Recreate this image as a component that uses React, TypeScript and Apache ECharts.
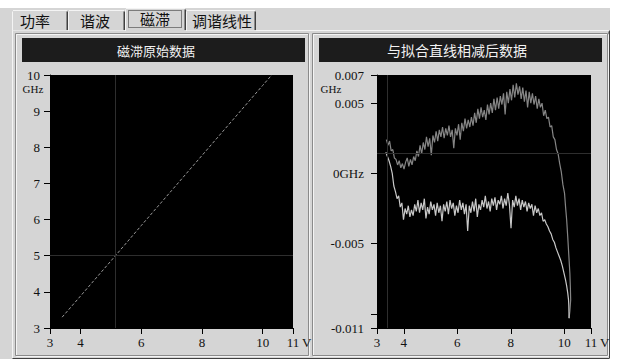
import React, { useEffect, useRef } from "react";
import * as echarts from "echarts";

const tabLabels = ["功率", "谐波", "磁滞", "调谐线性"];
const leftTitle = "磁滞原始数据";
const rightTitle = "与拟合直线相减后数据";
const xTickValues = [3, 4, 6, 8, 10, 11];
const rightYTickValues = [0.007, 0.005, 0, -0.005, -0.01, -0.011];
const rightYLabelValues = [0.007, 0.005, 0, -0.005, -0.011];

// 磁滞原始数据: [V, GHz]
const rawLine = [
  [3.4, 3.3], [4.0, 3.88], [5.0, 4.85], [6.0, 5.83], [7.0, 6.8],
  [8.0, 7.77], [9.0, 8.74], [10.0, 9.71], [10.3, 10.0],
];

// 与拟合直线相减后数据 (unit: 0.001 GHz) — upper branch
const upperCurve = [
  [3.35, 2.4], [3.41, 2.0], [3.47, 2.3], [3.53, 1.6], [3.59, 1.7], [3.65, 1.1], [3.71, 1.0],
  [3.77, 0.6], [3.83, 0.9], [3.89, 0.4], [3.95, 0.7], [4.01, 0.3], [4.07, 0.8], [4.13, 1.1],
  [4.19, 0.5], [4.25, 1.0], [4.31, 0.6], [4.37, 1.2], [4.43, 0.9], [4.49, 1.6], [4.55, 1.2],
  [4.61, 2.0], [4.67, 1.4], [4.73, 2.2], [4.79, 1.7], [4.85, 2.6], [4.91, 1.9], [4.97, 2.5],
  [5.03, 1.3], [5.09, 2.7], [5.15, 2.2], [5.21, 3.0], [5.27, 2.3], [5.33, 3.1], [5.39, 2.6],
  [5.45, 3.3], [5.51, 2.5], [5.57, 3.2], [5.63, 2.7], [5.69, 3.4], [5.75, 2.6], [5.81, 3.1],
  [5.87, 1.8], [5.93, 3.2], [5.99, 2.7], [6.05, 3.5], [6.11, 2.4], [6.17, 3.6], [6.23, 3.0],
  [6.29, 3.9], [6.35, 3.2], [6.41, 3.8], [6.47, 3.3], [6.53, 4.0], [6.59, 3.4], [6.65, 4.3],
  [6.71, 3.6], [6.77, 4.6], [6.83, 3.9], [6.89, 4.7], [6.95, 4.0], [7.01, 4.5], [7.07, 3.8],
  [7.13, 4.9], [7.19, 4.2], [7.25, 5.0], [7.31, 4.3], [7.37, 5.3], [7.43, 4.5], [7.49, 5.4],
  [7.55, 4.6], [7.61, 5.5], [7.67, 4.9], [7.73, 5.7], [7.79, 4.2], [7.85, 5.8], [7.91, 5.0],
  [7.97, 6.0], [8.03, 5.2], [8.09, 6.3], [8.15, 5.4], [8.21, 6.4], [8.27, 5.6], [8.33, 6.2],
  [8.39, 5.3], [8.45, 6.1], [8.51, 5.1], [8.57, 5.9], [8.63, 4.7], [8.69, 5.8], [8.75, 5.0],
  [8.81, 5.7], [8.87, 4.9], [8.93, 5.5], [8.99, 4.6], [9.05, 5.3], [9.11, 4.7], [9.17, 5.0],
  [9.23, 4.1], [9.29, 4.5], [9.35, 3.9], [9.41, 4.0], [9.47, 3.3], [9.53, 3.4], [9.59, 2.6],
  [9.65, 2.4], [9.71, 1.7], [9.77, 1.4], [9.83, 0.7], [9.89, 0.1], [9.95, -0.8], [10.01, -1.4],
  [10.05, -2.4], [10.09, -3.3], [10.13, -4.5], [10.17, -5.8], [10.21, -7.1], [10.23, -8.2],
  [10.24, -9.0], [10.21, -9.8], [10.18, -10.3],
];

// 与拟合直线相减后数据 (unit: 0.001 GHz) — lower branch
const lowerCurve = [
  [3.33, 1.5], [3.39, 1.2], [3.45, 0.9], [3.51, 0.5], [3.57, 0.0], [3.63, -0.9], [3.69, -1.3],
  [3.75, -1.8], [3.81, -1.6], [3.87, -2.4], [3.93, -2.1], [3.99, -3.3], [4.05, -2.5], [4.11, -2.9],
  [4.17, -2.3], [4.23, -3.1], [4.29, -2.6], [4.35, -3.0], [4.41, -2.2], [4.47, -2.7], [4.53, -1.9],
  [4.59, -2.8], [4.65, -2.1], [4.71, -2.6], [4.77, -1.8], [4.83, -3.2], [4.89, -2.4], [4.95, -2.9],
  [5.01, -2.0], [5.07, -2.6], [5.13, -2.2], [5.19, -3.0], [5.25, -2.1], [5.31, -2.8], [5.37, -2.3],
  [5.43, -3.4], [5.49, -2.2], [5.55, -2.7], [5.61, -2.0], [5.67, -2.9], [5.73, -1.9], [5.79, -2.5],
  [5.85, -2.1], [5.91, -3.0], [5.97, -2.3], [6.03, -2.8], [6.09, -1.9], [6.15, -2.6], [6.21, -2.1],
  [6.27, -2.9], [6.33, -2.2], [6.39, -4.1], [6.45, -2.3], [6.51, -2.8], [6.57, -2.0], [6.63, -2.7],
  [6.69, -1.8], [6.75, -3.1], [6.81, -2.2], [6.87, -2.6], [6.93, -1.9], [6.99, -2.4], [7.05, -1.6],
  [7.11, -2.5], [7.17, -2.0], [7.23, -2.7], [7.29, -1.8], [7.35, -2.3], [7.41, -1.7], [7.47, -2.6],
  [7.53, -1.9], [7.59, -2.2], [7.65, -1.6], [7.71, -2.5], [7.77, -1.8], [7.83, -2.3], [7.89, -1.4],
  [7.95, -2.2], [8.01, -3.9], [8.07, -1.9], [8.13, -2.4], [8.19, -1.6], [8.25, -2.3], [8.31, -1.8],
  [8.37, -2.6], [8.43, -1.9], [8.49, -2.4], [8.55, -2.0], [8.61, -2.7], [8.67, -2.1], [8.73, -2.5],
  [8.79, -2.2], [8.85, -3.0], [8.91, -2.3], [8.97, -2.8], [9.03, -2.5], [9.09, -3.0], [9.15, -2.8],
  [9.21, -3.4], [9.27, -3.3], [9.33, -3.6], [9.39, -3.8], [9.45, -4.1], [9.51, -4.3], [9.57, -4.7],
  [9.63, -4.9], [9.69, -5.3], [9.75, -5.6], [9.81, -5.9], [9.87, -6.2], [9.93, -6.6], [9.99, -7.1],
  [10.05, -7.6], [10.09, -8.0], [10.13, -8.5], [10.16, -9.0], [10.17, -9.4], [10.18, -10.3],
];

const leftCursor = [5.14, 5.0];
const rightCursor = [3.38, 0.0014];

const BG = "#d5d5d5";
const DARK = "#8a8a8a";
const LIGHT = "#f4f4f4";
const CURSOR = "#2e2e2e";
const numFont = "'Liberation Serif', 'DejaVu Serif', serif";
const cjkFont = "'Noto Sans CJK SC', sans-serif";

function line(x1: number, y1: number, x2: number, y2: number, color: string) {
  return { type: "line", shape: { x1, y1, x2, y2 }, style: { stroke: color, lineWidth: 1 }, silent: true };
}

function etchedBox(x: number, y: number, w: number, h: number) {
  const out: any[] = [];
  const box = (ox: number, oy: number, c: string) => {
    out.push({
      type: "polyline",
      shape: { points: [[ox, oy], [ox + w, oy], [ox + w, oy + h], [ox, oy + h], [ox, oy]] },
      style: { stroke: c, lineWidth: 1, fill: null },
      silent: true,
    });
  };
  box(x + 1.5, y + 1.5, LIGHT);
  box(x + 0.5, y + 0.5, DARK);
  return out;
}

const tabGeom = [
  { x0: 12, x1: 68, cx: 35 },
  { x0: 68, x1: 125, cx: 95 },
  { x0: 125, x1: 186, cx: 155 },
  { x0: 186, x1: 256, cx: 222 },
];

function buildGraphics() {
  const g: any[] = [];
  g.push({ type: "rect", shape: { x: 0, y: 0, width: 618, height: 8 }, style: { fill: "#ffffff" }, silent: true });
  g.push({ type: "rect", shape: { x: 610, y: 0, width: 8, height: 359 }, style: { fill: "#ffffff" }, silent: true });
  // tab page frame
  g.push(line(12.5, 30.5, 12.5, 358, LIGHT));
  g.push(line(12.5, 30.5, 609.5, 30.5, LIGHT));
  g.push(line(609.5, 30.5, 609.5, 358, "#404040"));
  g.push(line(608.5, 31.5, 608.5, 357, DARK));
  g.push(line(12.5, 358.5, 609.5, 358.5, "#404040"));
  // tabs
  tabLabels.forEach((label, i) => {
    const t = tabGeom[i];
    const selected = i === 2;
    const top = selected ? 8.5 : 10.5;
    g.push({ type: "rect", shape: { x: t.x0 + 1, y: top, width: t.x1 - t.x0 - 1, height: 30.5 - top + (selected ? 1 : 0) }, style: { fill: BG }, silent: true });
    g.push(line(t.x0 + 0.5, top + 1, t.x0 + 0.5, 30.5, LIGHT));
    g.push(line(t.x0 + 1, top, t.x1 - 1, top, LIGHT));
    g.push(line(t.x1 - 0.5, top + 1, t.x1 - 0.5, 30, "#404040"));
    g.push(line(t.x1 - 1.5, top + 1, t.x1 - 1.5, 30, DARK));
    g.push({
      type: "text",
      x: t.cx,
      y: selected ? 18 : 20,
      style: { text: label, fill: "#111", font: `15px ${cjkFont}`, textAlign: "center", textVerticalAlign: "middle" },
      silent: true,
    });
    if (selected) {
      g.push({ type: "rect", shape: { x: t.x0 + 3.5, y: 10.5, width: t.x1 - t.x0 - 8, height: 17 }, style: { fill: null, stroke: "#222", lineWidth: 1, lineDash: [1, 1] }, silent: true });
    }
  });
  // group boxes
  g.push(...etchedBox(15, 33, 293, 322));
  g.push(...etchedBox(312, 33, 295, 322));
  // title bars
  g.push({ type: "rect", shape: { x: 22, y: 38, width: 283, height: 24 }, style: { fill: "#1c1c1c" }, silent: true });
  g.push({ type: "rect", shape: { x: 319, y: 38, width: 283, height: 24 }, style: { fill: "#1c1c1c" }, silent: true });
  g.push({ type: "text", x: 156, y: 50, style: { text: leftTitle, fill: "#f2f2f2", font: `13px ${cjkFont}`, textAlign: "center", textVerticalAlign: "middle" }, silent: true });
  g.push({ type: "text", x: 457, y: 50, style: { text: rightTitle, fill: "#f2f2f2", font: `14px ${cjkFont}`, textAlign: "center", textVerticalAlign: "middle" }, silent: true });
  // units
  g.push({ type: "text", x: 33, y: 89, style: { text: "GHz", fill: "#111", font: `11px ${numFont}`, textAlign: "center", textVerticalAlign: "middle" }, silent: true });
  g.push({ type: "text", x: 331, y: 89, style: { text: "GHz", fill: "#111", font: `11px ${numFont}`, textAlign: "center", textVerticalAlign: "middle" }, silent: true });
  g.push({ type: "text", x: 302, y: 342, style: { text: "V", fill: "#111", font: `13px ${numFont}`, textAlign: "left", textVerticalAlign: "middle" }, silent: true });
  g.push({ type: "text", x: 600, y: 342, style: { text: "V", fill: "#111", font: `13px ${numFont}`, textAlign: "left", textVerticalAlign: "middle" }, silent: true });
  return g.map((el) => ({ ...el, z: -1 }));
}

const axisTextStyle = { color: "#111", fontFamily: numFont, fontSize: 13 };
const tickStyle = { color: "#000", width: 1 };

function xAxisFor(gridIndex: number) {
  return {
    type: "value",
    gridIndex,
    min: 3,
    max: 11,
    axisLine: { show: true, onZero: false, lineStyle: { color: "#000" } },
    splitLine: { show: false },
    axisTick: { show: true, customValues: xTickValues, length: 6, lineStyle: tickStyle },
    axisLabel: { ...axisTextStyle, customValues: xTickValues, margin: 8, showMinLabel: true, showMaxLabel: true },
  };
}

// cursor crosshair drawn as a series whose own colour is the cursor colour
function cursorSeries(idx: number, cursor: number[]) {
  return {
    type: "line",
    name: "cursor" + idx,
    xAxisIndex: idx,
    yAxisIndex: idx,
    data: [cursor],
    showSymbol: false,
    color: CURSOR,
    itemStyle: { color: CURSOR },
    lineStyle: { color: CURSOR, width: 1 },
    z: 1,
    markLine: {
      silent: true,
      precision: 6,
      symbol: ["none", "none"],
      label: { show: false },
      emphasis: { disabled: true },
      lineStyle: { color: CURSOR, type: "solid", width: 1 },
      data: [{ xAxis: cursor[0] }, { yAxis: cursor[1] }],
    },
  };
}

const option: any = {
  animation: false,
  backgroundColor: BG,
  graphic: buildGraphics(),
  grid: [
    { left: 50, top: 75, width: 243, height: 253, show: true, backgroundColor: "#000", borderWidth: 0 },
    { left: 377, top: 75, width: 214, height: 253, show: true, backgroundColor: "#000", borderWidth: 0 },
  ],
  xAxis: [xAxisFor(0), xAxisFor(1)],
  yAxis: [
    {
      type: "value",
      gridIndex: 0,
      min: 3,
      max: 10,
      interval: 1,
      axisLine: { show: true, onZero: false, lineStyle: { color: "#000" } },
      splitLine: { show: false },
      axisTick: { show: true, length: 6, lineStyle: tickStyle },
      axisLabel: { ...axisTextStyle, margin: 10, showMinLabel: true, showMaxLabel: true },
    },
    {
      type: "value",
      gridIndex: 1,
      min: -0.011,
      max: 0.007,
      axisLine: { show: true, onZero: false, lineStyle: { color: "#000" } },
      splitLine: { show: false },
      axisTick: { show: true, customValues: rightYTickValues, length: 6, lineStyle: tickStyle },
      axisLabel: {
        ...axisTextStyle,
        customValues: rightYLabelValues,
        margin: 13,
        showMinLabel: true,
        showMaxLabel: true,
        formatter: (v: number) => (Math.abs(v) < 1e-9 ? "0GHz" : v.toFixed(3)),
      },
    },
  ],
  series: [
    cursorSeries(0, leftCursor),
    cursorSeries(1, rightCursor),
    {
      type: "line",
      xAxisIndex: 0,
      yAxisIndex: 0,
      data: rawLine,
      showSymbol: false,
      z: 3,
      lineStyle: { color: "#9a9a9a", width: 1, type: [3, 2] },
    },
    {
      type: "line",
      xAxisIndex: 1,
      yAxisIndex: 1,
      data: upperCurve.map(([v, f]) => [v, f / 1000]),
      showSymbol: false,
      z: 3,
      lineStyle: { color: "#858585", width: 1.2 },
    },
    {
      type: "line",
      xAxisIndex: 1,
      yAxisIndex: 1,
      data: lowerCurve.map(([v, f]) => [v, f / 1000]),
      showSymbol: false,
      z: 3,
      lineStyle: { color: "#c8c8c8", width: 1.2 },
    },
  ],
};

export default function App() {
  const ref = useRef<HTMLDivElement>(null);
  useEffect(() => {
    if (!ref.current) return;
    const chart = echarts.init(ref.current, null, { renderer: "svg" });
    chart.setOption(option);
    return () => chart.dispose();
  }, []);
  return <div ref={ref} style={{ position: "fixed", left: 0, top: 0, width: 618, height: 359 }} />;
}
